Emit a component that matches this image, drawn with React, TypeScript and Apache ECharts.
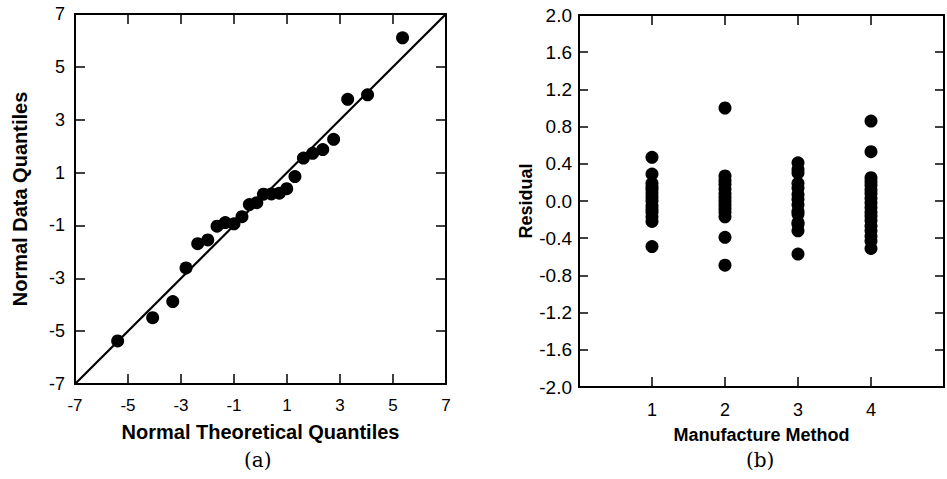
import React, { useEffect, useRef } from "react";
import * as echarts from "echarts";

const qqTheoretical = [-5.39, -4.07, -3.31, -2.81, -2.37, -1.99, -1.64, -1.33, -1.0, -0.7, -0.42, -0.14, 0.11, 0.41, 0.71, 0.99, 1.3, 1.62, 1.97, 2.35, 2.76, 3.29, 4.04, 5.36];
const qqSample = [-5.37, -4.49, -3.88, -2.61, -1.69, -1.55, -1.03, -0.89, -0.94, -0.67, -0.21, -0.14, 0.18, 0.19, 0.22, 0.39, 0.85, 1.55, 1.73, 1.87, 2.26, 3.77, 3.94, 6.1];
const refLine = [[-7, -7], [7, 7]];

const methods = [1, 2, 3, 4];
const method1 = [0.47, 0.29, 0.19, 0.15, 0.12, 0.08, 0.04, 0.0, -0.05, -0.09, -0.12, -0.17, -0.22, -0.49];
const method2 = [1.0, 0.27, 0.22, 0.18, 0.13, 0.08, 0.04, 0.0, -0.04, -0.08, -0.12, -0.17, -0.39, -0.69];
const method3 = [0.41, 0.34, 0.3, 0.19, 0.14, 0.07, 0.02, -0.04, -0.11, -0.14, -0.23, -0.25, -0.32, -0.57];
const method4 = [0.86, 0.53, 0.25, 0.21, 0.17, 0.12, 0.08, 0.03, -0.02, -0.07, -0.12, -0.16, -0.21, -0.27, -0.32, -0.38, -0.43, -0.51];
const residualGroups = [method1, method2, method3, method4];

const SANS = "'Liberation Sans', Arial, sans-serif";
const SERIF = "'DejaVu Serif', serif";

export default function App() {
  const ref = useRef<HTMLDivElement>(null);
  useEffect(() => {
    if (!ref.current) return;
    const chart = echarts.init(ref.current, null, { renderer: "svg" });
    const black = "#000";
    const axisLine = { show: true, onZero: false, lineStyle: { color: black, width: 2 } };
    const tickIn = (len: number) => ({ show: true, inside: true, length: len, lineStyle: { color: black, width: 1.5 } });
    const lbl = (size: number, margin: number, fmt?: any) => ({ show: true, color: black, fontSize: size, fontFamily: SANS, margin, formatter: fmt });
    const nameStyle = (size: number) => ({ color: black, fontSize: size, fontWeight: "bold", fontFamily: SANS });

    const residualData: number[][] = [];
    residualGroups.forEach((g, i) => g.forEach((v) => residualData.push([methods[i], v])));

    chart.setOption({
      animation: false,
      backgroundColor: "#fff",
      grid: [
        { left: 75, top: 14, width: 371, height: 370, show: false },
        { left: 579, top: 15, width: 369, height: 372, show: false },
      ],
      xAxis: [
        {
          gridIndex: 0, type: "value", min: -7, max: 7, interval: 2, position: "bottom",
          axisLine, axisTick: tickIn(10), splitLine: { show: false },
          axisLabel: lbl(17, 13),
          name: "Normal Theoretical Quantiles", nameLocation: "middle", nameGap: 38, nameTextStyle: nameStyle(20),
        },
        {
          gridIndex: 0, type: "value", min: -7, max: 7, interval: 2, position: "top",
          axisLine, axisTick: tickIn(10), splitLine: { show: false }, axisLabel: { show: false },
        },
        {
          gridIndex: 1, type: "value", min: 0, max: 5, interval: 1, position: "bottom",
          axisLine, axisTick: tickIn(10), splitLine: { show: false },
          axisLabel: lbl(18, 14, (v: number) => (v >= 1 && v <= 4 ? String(v) : "")),
          name: "Manufacture Method", nameLocation: "middle", nameGap: 39, nameTextStyle: nameStyle(18),
        },
        {
          gridIndex: 1, type: "value", min: 0, max: 5, interval: 1, position: "top",
          axisLine, axisTick: tickIn(10), splitLine: { show: false }, axisLabel: { show: false },
        },
      ],
      yAxis: [
        {
          gridIndex: 0, type: "value", min: -7, max: 7, interval: 2, position: "left",
          axisLine, axisTick: tickIn(10), splitLine: { show: false },
          axisLabel: lbl(18, 10),
          name: "Normal Data Quantiles", nameLocation: "middle", nameGap: 45, nameTextStyle: nameStyle(20),
        },
        {
          gridIndex: 0, type: "value", min: -7, max: 7, interval: 2, position: "right",
          axisLine, axisTick: tickIn(10), splitLine: { show: false }, axisLabel: { show: false },
        },
        {
          gridIndex: 1, type: "value", min: -2, max: 2, interval: 0.4, position: "left",
          axisLine, axisTick: tickIn(9), splitLine: { show: false },
          axisLabel: lbl(19, 7, (v: number) => v.toFixed(1)),
          name: "Residual", nameLocation: "middle", nameGap: 34, nameTextStyle: nameStyle(18),
        },
        {
          gridIndex: 1, type: "value", min: -2, max: 2, interval: 0.4, position: "right",
          axisLine, axisTick: tickIn(9), splitLine: { show: false }, axisLabel: { show: false },
        },
      ],
      series: [
        {
          type: "line", xAxisIndex: 0, yAxisIndex: 0, data: refLine, showSymbol: false, symbol: "none",
          lineStyle: { color: black, width: 2.2 }, silent: true,
        },
        {
          type: "scatter", xAxisIndex: 0, yAxisIndex: 0,
          data: qqTheoretical.map((x, i) => [x, qqSample[i]]),
          symbol: "circle", symbolSize: 13, itemStyle: { color: black, opacity: 1 },
        },
        {
          type: "scatter", xAxisIndex: 2, yAxisIndex: 2, data: residualData,
          symbol: "circle", symbolSize: 13, itemStyle: { color: black, opacity: 1 },
        },
      ],
      graphic: [
        { type: "text", left: 244, top: 450, style: { text: "(a)", fontSize: 20, fontFamily: SERIF, fill: black } },
        { type: "text", left: 746, top: 450, style: { text: "(b)", fontSize: 20, fontFamily: SERIF, fill: black } },
      ],
    });
    return () => chart.dispose();
  }, []);
  return <div ref={ref} style={{ position: "absolute", left: 0, top: 0, width: 947, height: 479 }} />;
}
